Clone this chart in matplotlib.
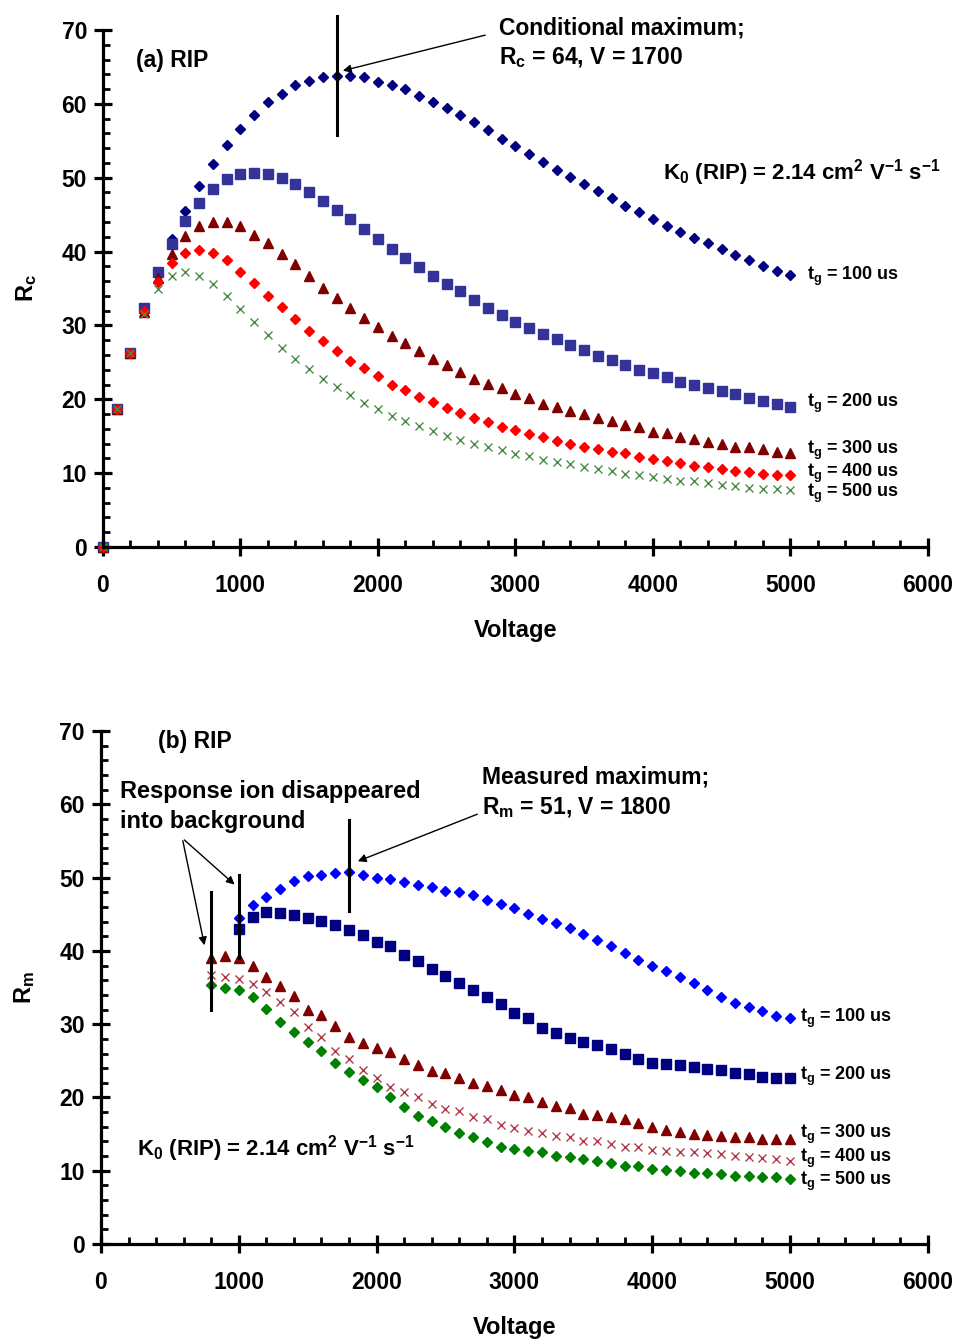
import matplotlib
matplotlib.use("Agg")
import matplotlib.pyplot as plt
import numpy as np
from matplotlib.ticker import MultipleLocator

plt.rcParams['font.family'] = ['Liberation Sans', 'DejaVu Sans']
plt.rcParams['font.weight'] = 'bold'
plt.rcParams['mathtext.fontset'] = 'custom'
plt.rcParams['mathtext.rm'] = 'Liberation Sans:bold'
plt.rcParams['mathtext.bf'] = 'Liberation Sans:bold'
plt.rcParams['mathtext.it'] = 'Liberation Sans:bold'

# ---- data: panel (a), conditional resolution Rc, V = 0..5000 step 100
volt_a = np.arange(0, 5001, 100)
rc_100 = [0, 18.7, 26.3, 32.4, 37.3, 41.7, 45.5, 48.9, 51.8, 54.4, 56.6, 58.5, 60.2, 61.4, 62.5,
          63.1, 63.6, 63.8, 63.8, 63.6, 63.0, 62.5, 62.0, 61.1, 60.2, 59.4, 58.5, 57.5, 56.5,
          55.3, 54.3, 53.2, 52.1, 51.1, 50.1, 49.1, 48.2, 47.2, 46.2, 45.3, 44.4, 43.5, 42.7,
          41.8, 41.1, 40.4, 39.6, 38.8, 38.1, 37.4, 36.8]
rc_200 = [0, 18.7, 26.3, 32.3, 37.2, 41.0, 44.2, 46.6, 48.5, 49.8, 50.5, 50.7, 50.5, 50.0, 49.1,
          48.1, 46.8, 45.6, 44.4, 43.0, 41.7, 40.4, 39.1, 37.9, 36.7, 35.6, 34.6, 33.5, 32.4,
          31.4, 30.5, 29.6, 28.9, 28.1, 27.3, 26.7, 25.9, 25.3, 24.7, 24.0, 23.5, 23.0, 22.4,
          21.9, 21.5, 21.1, 20.7, 20.2, 19.8, 19.4, 19.0]
rc_300 = [0, 18.7, 26.3, 31.8, 36.4, 39.7, 42.1, 43.5, 44.0, 44.0, 43.4, 42.3, 41.1, 39.7, 38.3,
          36.7, 35.1, 33.7, 32.3, 31.0, 29.8, 28.6, 27.6, 26.5, 25.4, 24.6, 23.7, 22.8, 22.1,
          21.5, 20.7, 20.2, 19.4, 19.0, 18.4, 18.0, 17.4, 17.0, 16.5, 16.2, 15.6, 15.4, 14.9,
          14.6, 14.2, 14.0, 13.6, 13.5, 13.3, 12.9, 12.7]
rc_400 = [0, 18.7, 26.3, 31.9, 35.9, 38.4, 39.8, 40.2, 39.8, 38.8, 37.3, 35.8, 34.0, 32.5, 30.9,
          29.3, 27.9, 26.5, 25.2, 24.2, 23.1, 22.0, 21.2, 20.3, 19.6, 18.8, 18.1, 17.5, 16.9,
          16.3, 15.8, 15.3, 14.9, 14.4, 14.0, 13.6, 13.3, 12.9, 12.7, 12.2, 11.9, 11.6, 11.4,
          11.0, 10.8, 10.6, 10.3, 10.1, 9.9, 9.8, 9.7]
rc_500 = [0, 18.7, 26.3, 31.6, 34.9, 36.7, 37.3, 36.7, 35.6, 34.0, 32.2, 30.4, 28.7, 26.9, 25.5,
          24.1, 22.7, 21.6, 20.6, 19.5, 18.7, 17.8, 17.1, 16.4, 15.7, 15.0, 14.5, 14.0, 13.6,
          13.1, 12.6, 12.3, 11.8, 11.5, 11.2, 10.8, 10.6, 10.3, 9.9, 9.7, 9.5, 9.2, 9.0,
          8.9, 8.6, 8.4, 8.2, 8.0, 7.9, 7.8, 7.7]

# ---- data: panel (b), measured resolution Rm
volt_b1 = np.arange(1000, 5001, 100)
volt_b2 = np.arange(800, 5001, 100)
rm_100 = [44.5, 46.3, 47.4, 48.5, 49.6, 50.2, 50.3, 50.7, 50.8, 50.4, 50.0, 49.8, 49.4, 49.0,
          48.7, 48.2, 48.0, 47.6, 46.9, 46.4, 45.9, 45.0, 44.3, 43.8, 43.1, 42.3, 41.5, 40.7,
          39.7, 38.8, 38.0, 37.2, 36.4, 35.6, 34.7, 33.7, 32.9, 32.4, 31.8, 31.1, 30.8]
rm_200 = [43.0, 44.6, 45.3, 45.2, 44.9, 44.5, 44.1, 43.6, 42.8, 42.2, 41.2, 40.7, 39.5, 38.6,
          37.6, 36.6, 35.6, 34.7, 33.7, 32.7, 31.5, 30.8, 29.5, 28.8, 28.1, 27.6, 27.1, 26.6,
          26.0, 25.3, 24.7, 24.6, 24.4, 24.1, 23.9, 23.7, 23.4, 23.2, 22.8, 22.7, 22.6]
rm_300 = [39.1, 39.3, 39.0, 37.9, 36.5, 35.2, 33.9, 32.0, 31.2, 29.8, 28.3, 27.5, 26.7, 26.2,
          25.3, 24.4, 23.6, 23.3, 22.7, 22.0, 21.6, 21.0, 20.4, 20.0, 19.4, 18.9, 18.5, 17.8,
          17.6, 17.3, 17.1, 16.5, 16.0, 15.6, 15.3, 15.0, 14.9, 14.8, 14.6, 14.6, 14.3, 14.3, 14.3]
rm_400 = [36.7, 36.5, 36.2, 35.5, 34.4, 33.1, 31.7, 29.6, 28.2, 26.4, 25.2, 23.8, 22.7, 21.4,
          20.7, 20.0, 19.1, 18.4, 18.1, 17.4, 17.0, 16.3, 15.9, 15.4, 15.1, 14.7, 14.6, 14.1,
          14.0, 13.6, 13.3, 13.2, 12.9, 12.7, 12.6, 12.6, 12.4, 12.3, 12.0, 11.9, 11.7, 11.6, 11.4]
rm_500 = [35.4, 35.0, 34.7, 33.7, 32.1, 30.3, 29.0, 27.6, 26.4, 24.7, 23.5, 22.4, 21.4, 20.0,
          18.7, 17.5, 16.8, 16.0, 15.1, 14.6, 13.9, 13.3, 13.0, 12.7, 12.5, 12.0, 11.9, 11.6,
          11.4, 11.0, 10.7, 10.7, 10.3, 10.1, 10.0, 9.7, 9.7, 9.5, 9.3, 9.3, 9.1, 9.1, 8.9]

gate_labels = ['100', '200', '300', '400', '500']
label_y_a = [36.7, 19.5, 13.1, 10.0, 7.2]
label_y_b = [30.8, 22.9, 14.9, 11.7, 8.6]


def style_axes(ax, ylabel):
    ax.set_xlim(0, 6000)
    ax.set_ylim(0, 70)
    for s in ['top', 'right']:
        ax.spines[s].set_visible(False)
    for s in ['left', 'bottom']:
        ax.spines[s].set_linewidth(2.3)
    ax.xaxis.set_major_locator(MultipleLocator(1000))
    ax.xaxis.set_minor_locator(MultipleLocator(200))
    ax.yaxis.set_major_locator(MultipleLocator(10))
    ax.yaxis.set_minor_locator(MultipleLocator(2))
    ax.tick_params(which='major', direction='inout', length=13, width=2.3, labelsize=16.5)
    ax.tick_params(which='minor', direction='in', length=5, width=2)
    ax.tick_params(axis='x', which='major', pad=13)
    ax.tick_params(axis='y', which='major', pad=5)
    ax.set_xlabel('Voltage', fontsize=17, fontweight='bold', labelpad=16)
    ax.set_ylabel(ylabel, fontsize=17, fontweight='bold', labelpad=16)
    for lab in ax.get_xticklabels() + ax.get_yticklabels():
        lab.set_fontweight('bold')


fig = plt.figure(figsize=(9.57, 13.4), dpi=100)

# ---------------- panel (a)
ax1 = fig.add_axes([0.1076, 0.5918, 0.862, 0.3858])
ax1.plot(volt_a, rc_100, 'D', color='#000080', ms=5, clip_on=False)
ax1.plot(volt_a, rc_200, 's', color='#333399', ms=6.5, clip_on=False)
ax1.plot(volt_a, rc_300, '^', color='#800000', ms=7, clip_on=False)
ax1.plot(volt_a, rc_400, 'D', color='#ff0000', ms=5, clip_on=False)
ax1.plot(volt_a, rc_500, 'x', color='#4b8b4b', ms=5.5, mew=1, clip_on=False)
style_axes(ax1, r'R$_\mathbf{c}$')

ax1.plot([1700, 1700], [55.8, 71.9], color='black', lw=2.2, clip_on=False)
ax1.annotate('', xy=(1725, 64.4), xytext=(2800, 69.4),
             arrowprops=dict(arrowstyle='-|>', color='black', lw=1, mutation_scale=12),
             annotation_clip=False)
ax1.text(240, 65.9, '(a) RIP', fontsize=16.5, fontweight='bold', va='center', ha='left')
ax1.text(2880, 70.3, 'Conditional maximum;', fontsize=16.5, fontweight='bold', va='center',
         clip_on=False)
ax1.text(2880, 66.2, r'R$_\mathbf{c}$ = 64, V = 1700', fontsize=16.5, fontweight='bold',
         va='center', clip_on=False)
ax1.text(4070, 50.7, r'K$_\mathbf{0}$ (RIP) = 2.14 cm$^\mathbf{2}$ V$^\mathbf{-1}$ s$^\mathbf{-1}$',
         fontsize=16, fontweight='bold', va='center', clip_on=False)
for g, yy in zip(gate_labels, label_y_a):
    ax1.text(5120, yy, r't$_\mathbf{g}$ = ' + g + ' us', fontsize=13, fontweight='bold',
             va='center', ha='left', clip_on=False)

# ---------------- panel (b)
ax2 = fig.add_axes([0.1055, 0.0716, 0.864, 0.3828])
ax2.plot(volt_b1, rm_100, 'D', color='#0000ff', ms=5, clip_on=False)
ax2.plot(volt_b1, rm_200, 's', color='#000080', ms=6.5, clip_on=False)
ax2.plot(volt_b2, rm_300, '^', color='#800000', ms=7, clip_on=False)
ax2.plot(volt_b2, rm_400, 'x', color='#b03a48', ms=5.5, mew=1, clip_on=False)
ax2.plot(volt_b2, rm_500, 'D', color='#008000', ms=5, clip_on=False)
style_axes(ax2, r'R$_\mathbf{m}$')

ax2.plot([800, 800], [32.0, 48.0], color='black', lw=2.2)
ax2.plot([1000, 1000], [39.1, 50.3], color='black', lw=2.2)
ax2.plot([1800, 1800], [45.4, 57.9], color='black', lw=2.2)
arrow_kw = dict(arrowstyle='-|>', color='black', lw=1, mutation_scale=12)
ax2.annotate('', xy=(1845, 52.1), xytext=(2750, 58.8), arrowprops=arrow_kw)
ax2.annotate('', xy=(755, 40.4), xytext=(590, 55.4), arrowprops=arrow_kw)
ax2.annotate('', xy=(985, 48.8), xytext=(590, 55.4), arrowprops=arrow_kw)
ax2.text(414, 68.6, '(b) RIP', fontsize=16.5, fontweight='bold', va='center')
ax2.text(138, 61.8, 'Response ion disappeared', fontsize=17, fontweight='bold', va='center')
ax2.text(138, 57.7, 'into background', fontsize=17, fontweight='bold', va='center')
ax2.text(2765, 63.7, 'Measured maximum;', fontsize=16.5, fontweight='bold', va='center')
ax2.text(2765, 59.5, r'R$_\mathbf{m}$ = 51, V = 1800', fontsize=16.5, fontweight='bold',
         va='center')
ax2.text(261, 13.1, r'K$_\mathbf{0}$ (RIP) = 2.14 cm$^\mathbf{2}$ V$^\mathbf{-1}$ s$^\mathbf{-1}$',
         fontsize=16, fontweight='bold', va='center')
for g, yy in zip(gate_labels, label_y_b):
    ax2.text(5072, yy, r't$_\mathbf{g}$ = ' + g + ' us', fontsize=13, fontweight='bold',
             va='center', ha='left', clip_on=False)

fig.savefig('out.png', dpi=100)
